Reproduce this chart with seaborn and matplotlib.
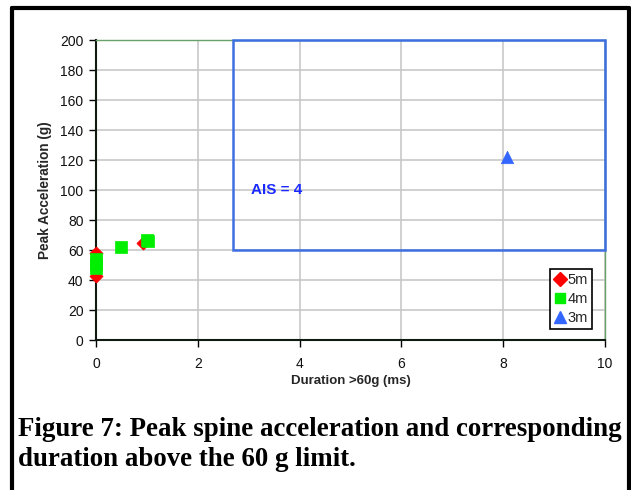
import matplotlib
matplotlib.use("Agg")
import matplotlib.pyplot as plt
import seaborn as sns
import pandas as pd
from matplotlib.patches import Rectangle
from matplotlib.lines import Line2D

# data
dur_5m = [0.0, 0.0, 0.93]
acc_5m = [43, 58, 65]
dur_4m = [0.0, 0.0, 0.0, 0.49, 1.02, 1.0]
acc_4m = [48, 51, 54, 62, 66, 67]
dur_3m = [8.07]
acc_3m = [122]
series_names = ["5m", "4m", "3m"]
ais_box_x = [2.7, 10]
ais_box_y = [60, 200]
ais_label = "AIS = 4"
caption = "Figure 7: Peak spine acceleration and corresponding\nduration above the 60 g limit."

df = pd.DataFrame({
    "dur": dur_5m + dur_4m + dur_3m,
    "acc": acc_5m + acc_4m + acc_3m,
    "series": ["5m"] * len(dur_5m) + ["4m"] * len(dur_4m) + ["3m"] * len(dur_3m),
})

sns.set_theme(style="white")
plt.rcParams['font.family'] = ['Liberation Sans', 'DejaVu Sans']

fig = plt.figure(figsize=(6.31, 4.90), dpi=100)
ax = fig.add_axes([96/631, 1-340/490, (605-96)/631, 300/490])

palette = {"5m": "#ff0000", "4m": "#00ee00", "3m": "#3366ff"}
markers = {"5m": "D", "4m": "s", "3m": "^"}
sizes_map = {"5m": 45, "4m": 70, "3m": 80}

# AIS region
ax.add_patch(Rectangle((ais_box_x[0], ais_box_y[0]), ais_box_x[1]-ais_box_x[0],
                       ais_box_y[1]-ais_box_y[0], fill=False, edgecolor="#3d6fe0",
                       linewidth=1.8, zorder=3, clip_on=False))
ax.text(3.05, 100, ais_label, color="#1a2aff", fontsize=11, fontweight="bold",
        va="center", ha="left", zorder=4)

for name in series_names:
    sub = df[df.series == name]
    sns.scatterplot(data=sub, x="dur", y="acc", color=palette[name], marker=markers[name],
                    s=sizes_map[name], edgecolor=palette[name], linewidth=0.5,
                    ax=ax, zorder=5, clip_on=False, legend=False)

ax.set_xlim(0, 10)
ax.set_ylim(0, 200)
ax.set_xticks(range(0, 11, 2))
ax.set_yticks(range(0, 201, 20))
ax.grid(True, color="#c8c8c8", linewidth=1.2)
ax.set_axisbelow(True)
ax.tick_params(axis="both", direction="out", length=5, width=1, color="black",
               labelsize=10, pad=4, bottom=True, left=True)
ax.tick_params(axis="x", pad=7)
for lab in ax.get_xticklabels() + ax.get_yticklabels():
    lab.set_color("#111111")
for s in ["left", "bottom"]:
    ax.spines[s].set_color("#111a11")
    ax.spines[s].set_linewidth(1.5)
for s in ["top", "right"]:
    ax.spines[s].set_color("#6aa06a")
    ax.spines[s].set_linewidth(1.0)

ax.set_xlabel("Duration >60g (ms)", fontsize=9.5, fontweight="bold", labelpad=3)
ax.set_ylabel("Peak Acceleration (g)", fontsize=9.8, fontweight="bold", labelpad=6)

handles = [Line2D([], [], linestyle="none", marker=markers[n], color=palette[n],
                  markersize={"5m": 7, "4m": 7.5, "3m": 9}[n]) for n in series_names]
leg = ax.legend(handles, series_names, loc="lower right", bbox_to_anchor=(0.975, 0.035),
                fontsize=10.5, frameon=True, fancybox=False, edgecolor="black",
                framealpha=1, handlelength=0.7, handletextpad=0.2, borderpad=0.3,
                labelspacing=0.35, borderaxespad=0)
leg.get_frame().set_linewidth(1.2)

# caption
fig.text(18/631, 1-417/490, caption, fontsize=19.4, fontweight="bold",
         family=["Liberation Serif", "DejaVu Serif"], va="top", ha="left",
         linespacing=1.28, color="black")

# outer frame
fig.add_artist(Line2D([12/631, 12/631], [0, 1-8/490], color="black", linewidth=3,
                      transform=fig.transFigure))
fig.add_artist(Line2D([12/631, 629/631], [1-8/490, 1-8/490], color="black", linewidth=3,
                      transform=fig.transFigure))
fig.add_artist(Line2D([629/631, 629/631], [0, 1-8/490], color="black", linewidth=3,
                      transform=fig.transFigure))

fig.savefig("out.png", dpi=100)
